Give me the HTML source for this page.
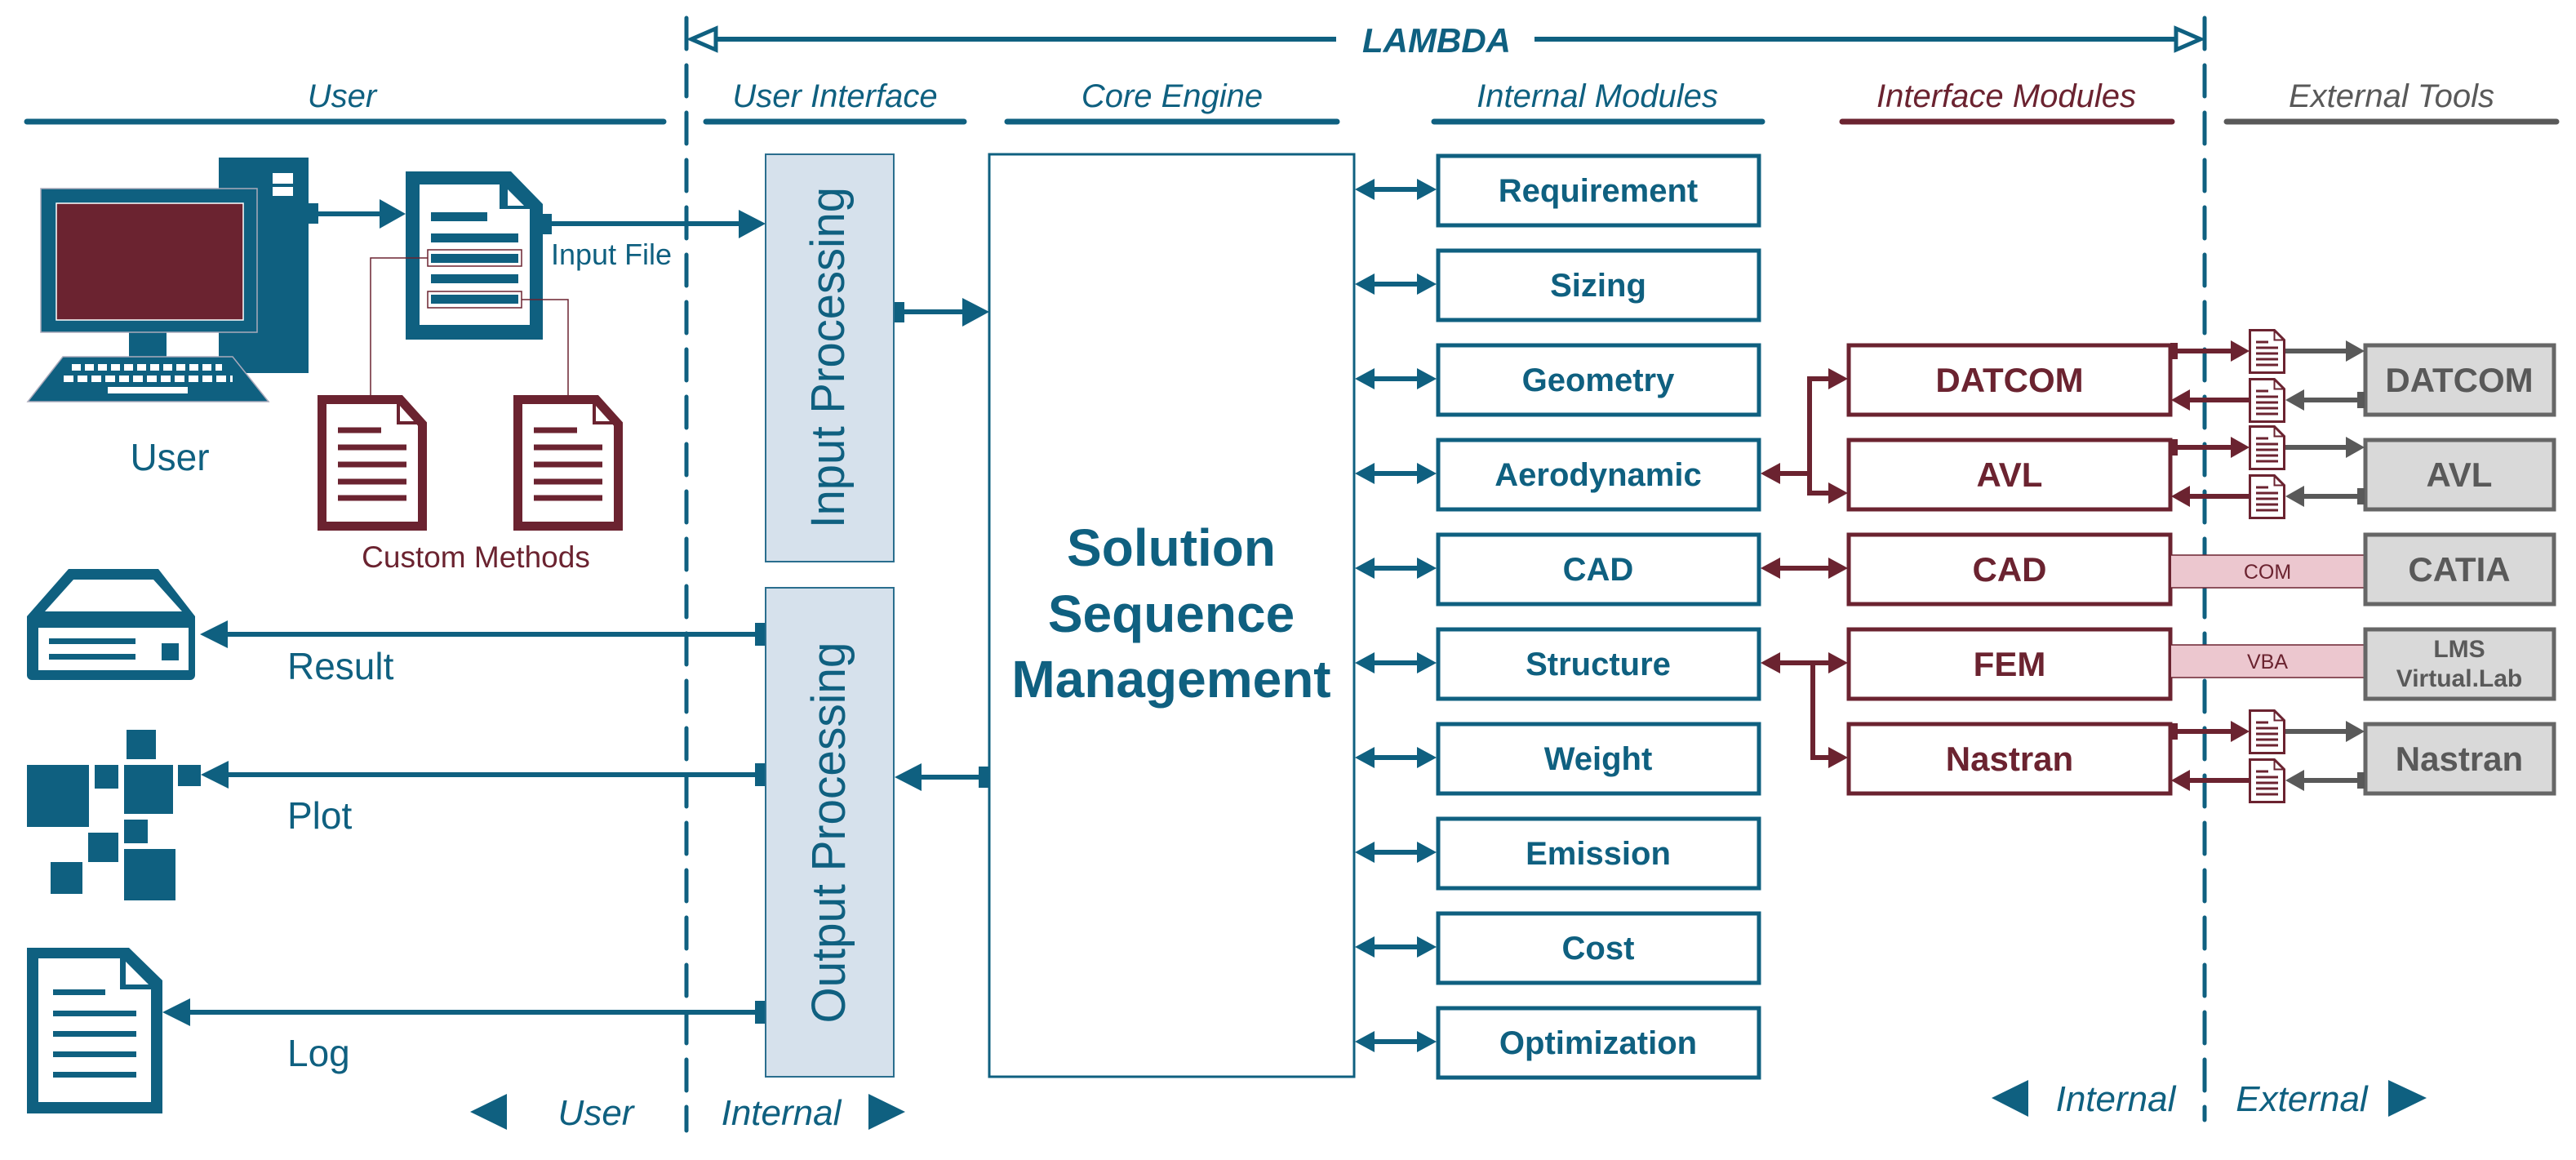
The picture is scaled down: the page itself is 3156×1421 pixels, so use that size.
<!DOCTYPE html>
<html><head><meta charset="utf-8"><style>html,body{margin:0;padding:0;background:#fff}svg{display:block}</style></head>
<body>
<svg width="3156" height="1421" viewBox="0 0 3156 1421" xmlns="http://www.w3.org/2000/svg" font-family="Liberation Sans, Arial, sans-serif">
<defs>
<g id="sdoc">
<path d="M1.5,1.5 h30 l12,12 v40 h-42 z" fill="#fff" stroke="#6b2330" stroke-width="3"/>
<path d="M31.5,1.5 v12 h12" fill="none" stroke="#6b2330" stroke-width="2"/>
<g stroke="#6b2330" stroke-width="3"><line x1="9" y1="16" x2="24" y2="16"/><line x1="9" y1="23" x2="36" y2="23"/><line x1="9" y1="30" x2="36" y2="30"/><line x1="9" y1="37" x2="36" y2="37"/><line x1="9" y1="44" x2="36" y2="44"/></g>
</g>
</defs>
<rect width="3156" height="1421" fill="#fff"/>

<!-- dashed dividers -->
<line x1="841" y1="22" x2="841" y2="1385" stroke="#0f6080" stroke-width="5" stroke-dasharray="38 20" stroke-linecap="round"/>
<line x1="2701" y1="22" x2="2701" y2="1372" stroke="#0f6080" stroke-width="5" stroke-dasharray="38 20" stroke-linecap="round"/>

<!-- LAMBDA -->
<line x1="878" y1="48" x2="1637" y2="48" stroke="#0f6080" stroke-width="6"/>
<line x1="1880" y1="48" x2="2666" y2="48" stroke="#0f6080" stroke-width="6"/>
<polygon points="847,48 877,35 877,61" fill="#fff" stroke="#0f6080" stroke-width="5"/>
<polygon points="2696,48 2666,35 2666,61" fill="#fff" stroke="#0f6080" stroke-width="5"/>
<text x="1760" y="64" text-anchor="middle" font-size="42" font-weight="bold" font-style="italic" fill="#0f6080">LAMBDA</text>

<!-- headers -->
<g font-size="40" font-style="italic" text-anchor="middle">
<text x="419" y="131" fill="#0f6080">User</text>
<text x="1023" y="131" fill="#0f6080">User Interface</text>
<text x="1436" y="131" fill="#0f6080">Core Engine</text>
<text x="1957" y="131" fill="#0f6080">Internal Modules</text>
<text x="2458" y="131" fill="#6b2330">Interface Modules</text>
<text x="2930" y="131" fill="#595959">External Tools</text>
</g>
<g stroke-width="7" stroke-linecap="round">
<line x1="33" y1="149" x2="813" y2="149" stroke="#0f6080"/>
<line x1="865" y1="149" x2="1181" y2="149" stroke="#0f6080"/>
<line x1="1234" y1="149" x2="1638" y2="149" stroke="#0f6080"/>
<line x1="1757" y1="149" x2="2159" y2="149" stroke="#0f6080"/>
<line x1="2257" y1="149" x2="2661" y2="149" stroke="#6b2330"/>
<line x1="2728" y1="149" x2="3132" y2="149" stroke="#595959"/>
</g>

<!-- computer -->
<rect x="268" y="193" width="110" height="264" fill="#0f6080"/>
<rect x="334" y="212" width="25" height="13" fill="#fff"/>
<rect x="334" y="229" width="25" height="11" fill="#fff"/>
<rect x="158" y="405" width="46" height="34" fill="#0f6080"/>
<rect x="50" y="231" width="265" height="176" fill="#0f6080" stroke="#aab" stroke-width="1.5"/>
<rect x="69" y="249" width="229" height="143" fill="#6b2330" stroke="#fff" stroke-width="1.5"/>
<polygon points="77,437 285,437 329,492 34,492" fill="#0f6080" stroke="#aab" stroke-width="1.5"/>
<line x1="88" y1="450" x2="272" y2="450" stroke="#fff" stroke-width="8" stroke-dasharray="11 5"/>
<line x1="78" y1="464" x2="285" y2="464" stroke="#fff" stroke-width="8" stroke-dasharray="12 5"/>
<rect x="132" y="474" width="98" height="8" fill="#fff"/>
<text x="208" y="576" text-anchor="middle" font-size="46" fill="#0f6080">User</text>

<!-- computer -> input file -->
<rect x="378" y="249" width="12" height="25" fill="#0f6080"/>
<line x1="388" y1="262" x2="470" y2="262" stroke="#0f6080" stroke-width="6"/>
<polygon points="497,262 465,244 465,280" fill="#0f6080"/>

<!-- input file doc -->
<polygon points="497,210 626,210 665,250 665,416 497,416" fill="#0f6080"/>
<polygon points="514,226 612,226 612,256 649,256 649,398 514,398" fill="#fff"/>
<polygon points="622,232 622,252 642,252" fill="#fff"/>
<g fill="#0f6080">
<rect x="528" y="260" width="69" height="11"/>
<rect x="528" y="286" width="107" height="11"/>
<rect x="528" y="311" width="107" height="11"/>
<rect x="528" y="336" width="107" height="11"/>
<rect x="528" y="361" width="107" height="11"/>
</g>
<rect x="524" y="306" width="115" height="20" fill="none" stroke="#6b2330" stroke-width="1.5"/>
<rect x="524" y="357" width="115" height="20" fill="none" stroke="#6b2330" stroke-width="1.5"/>
<polyline points="524,316 454,316 454,484" fill="none" stroke="#6b2330" stroke-width="1.5"/>
<polyline points="639,367 696,367 696,484" fill="none" stroke="#6b2330" stroke-width="1.5"/>
<rect x="665" y="262" width="11" height="25" fill="#0f6080"/>
<line x1="674" y1="274" x2="910" y2="274" stroke="#0f6080" stroke-width="6"/>
<polygon points="938,274 905,257 905,292" fill="#0f6080"/>
<text x="675" y="324" font-size="36" fill="#0f6080">Input File</text>

<!-- custom method docs -->
<g fill="#fff" stroke="#6b2330" stroke-width="11">
<path d="M394.5,489.5 h96 l27,30 v125 h-123 z"/>
<path d="M634.5,489.5 h96 l27,30 v125 h-123 z"/>
</g>
<g fill="none" stroke="#6b2330" stroke-width="4">
<path d="M488,492 v26 h27"/><path d="M728,492 v26 h27"/>
</g>
<g stroke="#6b2330" stroke-width="7">
<line x1="414" y1="527" x2="467" y2="527"/><line x1="414" y1="548" x2="498" y2="548"/><line x1="414" y1="569" x2="498" y2="569"/><line x1="414" y1="590" x2="498" y2="590"/><line x1="414" y1="610" x2="498" y2="610"/>
<line x1="654" y1="527" x2="707" y2="527"/><line x1="654" y1="548" x2="738" y2="548"/><line x1="654" y1="569" x2="738" y2="569"/><line x1="654" y1="590" x2="738" y2="590"/><line x1="654" y1="610" x2="738" y2="610"/>
</g>
<text x="583" y="695" text-anchor="middle" font-size="37" fill="#6b2330">Custom Methods</text>

<!-- drive icon -->
<path d="M84,697 h110 l45,58 v72 a6,6 0 0 1 -6,6 h-194 a6,6 0 0 1 -6,-6 v-72 z" fill="#0f6080"/>
<polygon points="90,710 188,710 223,749 55,749" fill="#fff"/>
<rect x="47" y="769" width="184" height="52" fill="#fff"/>
<rect x="60" y="782" width="106" height="7" fill="#0f6080"/>
<rect x="60" y="801" width="106" height="7" fill="#0f6080"/>
<rect x="198" y="788" width="21" height="21" fill="#0f6080"/>

<!-- plot icon -->
<g fill="#0f6080">
<rect x="155" y="894" width="36" height="36"/>
<rect x="33" y="937" width="76" height="76"/>
<rect x="116" y="937" width="29" height="29"/>
<rect x="152" y="937" width="60" height="60"/>
<rect x="218" y="937" width="28" height="26"/>
<rect x="152" y="1004" width="29" height="29"/>
<rect x="108" y="1020" width="37" height="36"/>
<rect x="62" y="1056" width="39" height="39"/>
<rect x="152" y="1040" width="63" height="63"/>
</g>

<!-- log doc -->
<polygon points="33,1161 158,1161 199,1201 199,1364 33,1364" fill="#0f6080"/>
<polygon points="47,1174 147,1174 147,1212 185,1212 185,1350 47,1350" fill="#fff"/>
<polygon points="154,1178 154,1206 182,1206" fill="#fff"/>
<g fill="#0f6080">
<rect x="65" y="1212" width="64" height="7"/><rect x="65" y="1238" width="102" height="7"/><rect x="65" y="1263" width="102" height="7"/><rect x="65" y="1288" width="102" height="7"/><rect x="65" y="1313" width="102" height="7"/>
</g>

<!-- output arrows -->
<g fill="#0f6080">
<rect x="925" y="763" width="13" height="28"/>
<rect x="925" y="935" width="13" height="28"/>
<rect x="925" y="1226" width="13" height="28"/>
<polygon points="245,777 279,760 279,794"/>
<polygon points="246,949 280,932 280,966"/>
<polygon points="199,1240 233,1223 233,1257"/>
</g>
<g stroke="#0f6080" stroke-width="6">
<line x1="275" y1="777" x2="930" y2="777"/>
<line x1="276" y1="949" x2="930" y2="949"/>
<line x1="229" y1="1240" x2="930" y2="1240"/>
</g>
<g font-size="46" fill="#0f6080">
<text x="352" y="832">Result</text>
<text x="352" y="1015">Plot</text>
<text x="352" y="1306">Log</text>
</g>

<!-- Input / Output processing -->
<rect x="938" y="189" width="157" height="499" fill="#d6e1ec" stroke="#2a6e8e" stroke-width="2"/>
<text transform="translate(1034,438) rotate(-90)" text-anchor="middle" font-size="58" fill="#0f6080" textLength="418" lengthAdjust="spacingAndGlyphs">Input Processing</text>
<rect x="938" y="720" width="157" height="599" fill="#d6e1ec" stroke="#2a6e8e" stroke-width="2"/>
<text transform="translate(1035,1020) rotate(-90)" text-anchor="middle" font-size="58" fill="#0f6080" textLength="467" lengthAdjust="spacingAndGlyphs">Output Processing</text>

<rect x="1096" y="370" width="12" height="25" fill="#0f6080"/>
<line x1="1105" y1="382" x2="1185" y2="382" stroke="#0f6080" stroke-width="6"/>
<polygon points="1212,382 1179,365 1179,400" fill="#0f6080"/>
<rect x="1199" y="939" width="13" height="26" fill="#0f6080"/>
<line x1="1120" y1="952" x2="1202" y2="952" stroke="#0f6080" stroke-width="6"/>
<polygon points="1096,952 1129,935 1129,969" fill="#0f6080"/>

<!-- Solution box -->
<rect x="1212" y="189" width="447" height="1130" fill="#fff" stroke="#0f6080" stroke-width="3"/>
<g font-size="64" font-weight="bold" fill="#0f6080" text-anchor="middle">
<text x="1435" y="693">Solution</text>
<text x="1435" y="774">Sequence</text>
<text x="1435" y="854">Management</text>
</g>

<!-- Internal modules -->
<g fill="#fff" stroke="#0f6080" stroke-width="5">
<rect x="1762" y="191" width="393" height="85"/>
<rect x="1762" y="307" width="393" height="85"/>
<rect x="1762" y="423" width="393" height="85"/>
<rect x="1762" y="539" width="393" height="85"/>
<rect x="1762" y="655" width="393" height="85"/>
<rect x="1762" y="771" width="393" height="85"/>
<rect x="1762" y="887" width="393" height="85"/>
<rect x="1762" y="1003" width="393" height="85"/>
<rect x="1762" y="1119" width="393" height="85"/>
<rect x="1762" y="1235" width="393" height="85"/>
</g>
<g font-size="40" font-weight="bold" fill="#0f6080" text-anchor="middle">
<text x="1958" y="247">Requirement</text>
<text x="1958" y="363">Sizing</text>
<text x="1958" y="479">Geometry</text>
<text x="1958" y="595">Aerodynamic</text>
<text x="1958" y="711">CAD</text>
<text x="1958" y="827">Structure</text>
<text x="1958" y="943">Weight</text>
<text x="1958" y="1059">Emission</text>
<text x="1958" y="1175">Cost</text>
<text x="1958" y="1291">Optimization</text>
</g>
<g stroke="#0f6080" stroke-width="6">
<line x1="1675" y1="232" x2="1745" y2="232"/><line x1="1675" y1="348" x2="1745" y2="348"/><line x1="1675" y1="464" x2="1745" y2="464"/><line x1="1675" y1="580" x2="1745" y2="580"/><line x1="1675" y1="696" x2="1745" y2="696"/><line x1="1675" y1="812" x2="1745" y2="812"/><line x1="1675" y1="928" x2="1745" y2="928"/><line x1="1675" y1="1044" x2="1745" y2="1044"/><line x1="1675" y1="1160" x2="1745" y2="1160"/><line x1="1675" y1="1276" x2="1745" y2="1276"/>
</g>
<g fill="#0f6080">
<polygon points="1660,232 1684,219 1684,245"/><polygon points="1760,232 1736,219 1736,245"/>
<polygon points="1660,348 1684,335 1684,361"/><polygon points="1760,348 1736,335 1736,361"/>
<polygon points="1660,464 1684,451 1684,477"/><polygon points="1760,464 1736,451 1736,477"/>
<polygon points="1660,580 1684,567 1684,593"/><polygon points="1760,580 1736,567 1736,593"/>
<polygon points="1660,696 1684,683 1684,709"/><polygon points="1760,696 1736,683 1736,709"/>
<polygon points="1660,812 1684,799 1684,825"/><polygon points="1760,812 1736,799 1736,825"/>
<polygon points="1660,928 1684,915 1684,941"/><polygon points="1760,928 1736,915 1736,941"/>
<polygon points="1660,1044 1684,1031 1684,1057"/><polygon points="1760,1044 1736,1031 1736,1057"/>
<polygon points="1660,1160 1684,1147 1684,1173"/><polygon points="1760,1160 1736,1147 1736,1173"/>
<polygon points="1660,1276 1684,1263 1684,1289"/><polygon points="1760,1276 1736,1263 1736,1289"/>
</g>

<!-- Interface modules -->
<g fill="#fff" stroke="#6b2330" stroke-width="5">
<rect x="2265" y="423" width="394" height="85"/>
<rect x="2265" y="539" width="394" height="85"/>
<rect x="2265" y="655" width="394" height="85"/>
<rect x="2265" y="771" width="394" height="85"/>
<rect x="2265" y="887" width="394" height="85"/>
</g>
<g font-size="42" font-weight="bold" fill="#6b2330" text-anchor="middle">
<text x="2462" y="480">DATCOM</text>
<text x="2462" y="596">AVL</text>
<text x="2462" y="712">CAD</text>
<text x="2462" y="828">FEM</text>
<text x="2462" y="944">Nastran</text>
</g>
<g stroke="#6b2330" stroke-width="6" fill="none">
<line x1="2170" y1="580" x2="2217" y2="580"/>
<polyline points="2245,464 2217,464 2217,604 2245,604"/>
<line x1="2170" y1="696" x2="2250" y2="696"/>
<line x1="2170" y1="812" x2="2250" y2="812"/>
<polyline points="2221,812 2221,928 2245,928"/>
</g>
<g fill="#6b2330">
<polygon points="2157,580 2181,567 2181,593"/>
<polygon points="2264,464 2240,451 2240,477"/>
<polygon points="2264,604 2240,591 2240,617"/>
<polygon points="2157,696 2181,683 2181,709"/><polygon points="2264,696 2240,683 2240,709"/>
<polygon points="2157,812 2181,799 2181,825"/><polygon points="2264,812 2240,799 2240,825"/>
<polygon points="2264,928 2240,915 2240,941"/>
</g>

<!-- COM / VBA bands -->
<rect x="2660" y="680" width="236" height="40" fill="#ecc7cf"/>
<line x1="2660" y1="680" x2="2896" y2="680" stroke="#6b2330" stroke-width="1.5"/>
<line x1="2660" y1="720" x2="2896" y2="720" stroke="#6b2330" stroke-width="1.5"/>
<rect x="2660" y="790" width="236" height="40" fill="#ecc7cf"/>
<line x1="2660" y1="790" x2="2896" y2="790" stroke="#6b2330" stroke-width="1.5"/>
<line x1="2660" y1="830" x2="2896" y2="830" stroke="#6b2330" stroke-width="1.5"/>
<text x="2778" y="709" text-anchor="middle" font-size="25" fill="#6b2330">COM</text>
<text x="2778" y="819" text-anchor="middle" font-size="25" fill="#6b2330">VBA</text>

<!-- External tools -->
<g fill="#d9d9d9" stroke="#666" stroke-width="5">
<rect x="2898" y="423" width="231" height="85"/>
<rect x="2898" y="539" width="231" height="85"/>
<rect x="2898" y="655" width="231" height="85"/>
<rect x="2898" y="771" width="231" height="85"/>
<rect x="2898" y="887" width="231" height="85"/>
</g>
<g font-weight="bold" fill="#595959" text-anchor="middle">
<text x="3013" y="480" font-size="42">DATCOM</text>
<text x="3013" y="596" font-size="42">AVL</text>
<text x="3013" y="712" font-size="42">CATIA</text>
<text x="3013" y="805" font-size="30">LMS</text>
<text x="3013" y="841" font-size="30">Virtual.Lab</text>
<text x="3013" y="944" font-size="42">Nastran</text>
</g>

<!-- file exchange arrows -->
<g id="xchg1">
<rect x="2659" y="420" width="9" height="20" fill="#6b2330"/>
<line x1="2666" y1="430" x2="2736" y2="430" stroke="#6b2330" stroke-width="6"/>
<polygon points="2756,430 2733,417 2733,443" fill="#6b2330"/>
<line x1="2800" y1="430" x2="2878" y2="430" stroke="#595959" stroke-width="6"/>
<polygon points="2897,430 2874,417 2874,443" fill="#595959"/>
<rect x="2888" y="480" width="9" height="20" fill="#595959"/>
<line x1="2820" y1="490" x2="2890" y2="490" stroke="#595959" stroke-width="6"/>
<polygon points="2800,490 2823,477 2823,503" fill="#595959"/>
<line x1="2680" y1="490" x2="2756" y2="490" stroke="#6b2330" stroke-width="6"/>
<polygon points="2660,490 2683,477 2683,503" fill="#6b2330"/>
<use href="#sdoc" x="2755" y="403"/>
<use href="#sdoc" x="2755" y="463"/>
</g>
<use href="#xchg1" y="118"/>
<use href="#xchg1" y="466"/>

<!-- bottom labels -->
<g fill="#0f6080">
<polygon points="576,1362 621,1340 621,1384"/>
<polygon points="1109,1362 1064,1340 1064,1384"/>
<polygon points="2440,1345 2485,1323 2485,1368"/>
<polygon points="2973,1345 2926,1323 2926,1368"/>
</g>
<g font-size="44" font-style="italic" fill="#0f6080" text-anchor="middle">
<text x="730" y="1378">User</text>
<text x="957" y="1378">Internal</text>
<text x="2592" y="1361">Internal</text>
<text x="2820" y="1361">External</text>
</g>
</svg>
</body></html>
